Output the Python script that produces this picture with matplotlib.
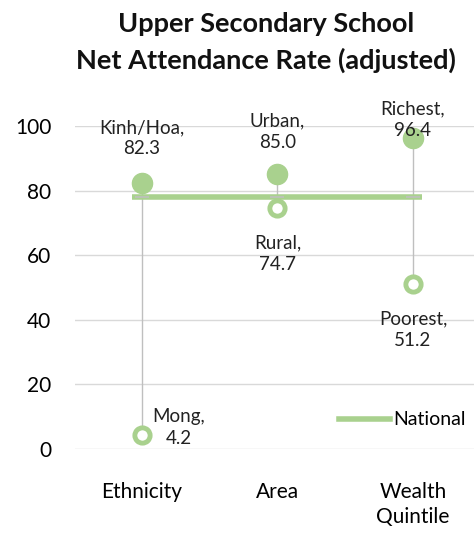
import matplotlib
matplotlib.use("Agg")
import matplotlib.pyplot as plt
from matplotlib.lines import Line2D

plt.rcParams['font.family'] = ['Lato', 'DejaVu Sans']

categories = ["Ethnicity", "Area", "Wealth\nQuintile"]
high_names = ["Kinh/Hoa", "Urban", "Richest"]
high_vals = [82.3, 85.0, 96.4]
low_names = ["Mong", "Rural", "Poorest"]
low_vals = [4.2, 74.7, 51.2]
national = 78.0

green = "#A9D18E"
grey = "#BFBFBF"

fig = plt.figure(figsize=(4.74, 5.35), dpi=100)
ax = fig.add_axes([0.158, 0.1607, 0.842, 0.6038])

x = range(len(categories))

# high-low connectors
for i in x:
    ax.plot([i, i], [low_vals[i], high_vals[i]], color=grey, lw=1, zorder=1)

# national average line
ax.plot([-0.07, 2.07], [national, national], color=green, lw=4, solid_capstyle='butt', zorder=2)
ax.plot(list(x), [national] * 3, ls='none', marker='_', ms=10, mew=1.2, color=grey, zorder=3)

ax.plot(list(x), high_vals, ls='none', marker='o', ms=14.5, color=green, zorder=4)
ax.plot(list(x), low_vals, ls='none', marker='o', ms=11, mfc='white', mec=green, mew=3.5, zorder=4)

# data labels (offsets in pixels)
high_off = [(0, 45), (0, 43), (0, 18)]
low_off = [(37, 8), (0, -46), (0, -46)]
for i in x:
    ax.annotate(f"{high_names[i]},\n{high_vals[i]:.1f}", (i, high_vals[i]),
                xytext=high_off[i], textcoords='offset pixels', zorder=5,
                ha='center', va='center', fontsize=13.5, linespacing=1.3, color='#222222')
    ax.annotate(f"{low_names[i]},\n{low_vals[i]:.1f}", (i, low_vals[i]),
                xytext=low_off[i], textcoords='offset pixels', zorder=5,
                ha='center', va='center', fontsize=13.5, linespacing=1.3, color='#222222')

ax.set_xlim(-0.494, 2.45)
ax.set_ylim(0, 100)
ax.set_yticks(range(0, 101, 20))
ax.set_xticks(list(x))
ax.set_xticklabels(categories, fontsize=15, linespacing=1.3)
ax.tick_params(axis='y', labelsize=15, length=0, pad=17)
ax.tick_params(axis='x', length=0, pad=24)
ax.grid(axis='y', color='#D9D9D9', lw=1)
ax.set_axisbelow(True)
for s in ax.spines.values():
    s.set_visible(False)

leg = ax.legend([Line2D([], [], color=green, lw=4)], ["National"],
                loc='center right', bbox_to_anchor=(1.0, 0.09), frameon=False,
                fontsize=14, handlelength=2.6, handletextpad=0.2, borderaxespad=0)

fig.text(0.562, 0.955, "Upper Secondary School", ha='center', va='center',
         fontsize=19.5, fontweight='bold', color='#111111')
fig.text(0.562, 0.888, "Net Attendance Rate (adjusted)", ha='center', va='center',
         fontsize=19.5, fontweight='bold', color='#111111')

fig.savefig("out.png", dpi=100)
